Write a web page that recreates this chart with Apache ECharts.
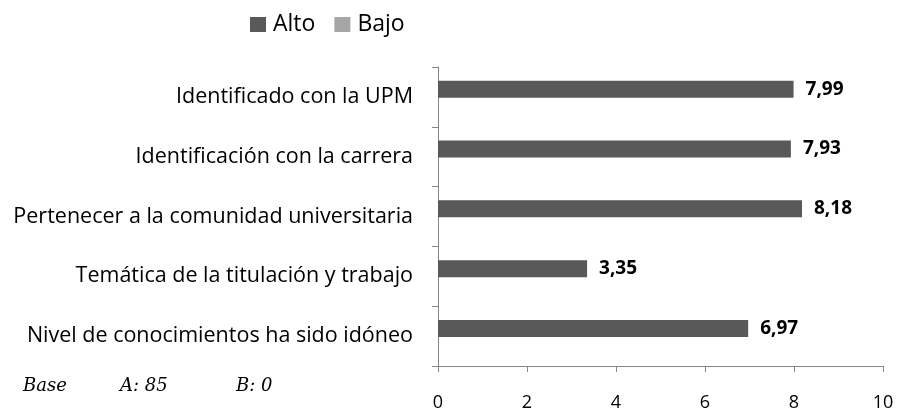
<!DOCTYPE html>
<html>
<head>
<meta charset="utf-8">
<script src="https://cdn.jsdelivr.net/npm/echarts@6/dist/echarts.min.js"></script>
<style>
  html, body { margin: 0; padding: 0; background: #fff; }
  #chart { width: 897px; height: 409px; }
</style>
</head>
<body>
<div id="chart"></div>
<script>
// datos del gráfico (de arriba a abajo)
var categorias = [
    'Identificado con la UPM',
    'Identificación con la carrera',
    'Pertenecer a la comunidad universitaria',
    'Temática de la titulación y trabajo',
    'Nivel de conocimientos ha sido idóneo'
];
var valoresAlto = [7.99, 7.93, 8.18, 3.35, 6.97];
var valoresBajo = ['-', '-', '-', '-', '-'];
var ticksX = [0, 2, 4, 6, 8, 10];

var chart = echarts.init(document.getElementById('chart'));

var fuente = 'Open Sans';
var serif = 'italic 18px "DejaVu Serif"';

var option = {
    animation: false,
    legend: {
        data: ['Alto', 'Bajo'],
        left: 245,
        top: 8,
        itemWidth: 16,
        itemHeight: 15,
        itemGap: 19,
        icon: 'rect',
        textStyle: { fontFamily: fuente, fontSize: 23, color: '#000', padding: [0, 0, 0, 2] }
    },
    grid: { left: 438, right: 14, top: 67, bottom: 43, outerBoundsMode: 'none' },
    xAxis: {
        type: 'value',
        min: 0,
        max: 10,
        interval: 2,
        splitLine: { show: false },
        axisLine: { show: true, lineStyle: { color: '#868686' } },
        axisTick: { show: true, length: 6, lineStyle: { color: '#868686' } },
        axisLabel: {
            fontFamily: fuente, fontSize: 18, color: '#000', margin: 28,
            formatter: function (v) { return ticksX.indexOf(v) >= 0 ? String(v) : ''; }
        }
    },
    yAxis: {
        type: 'category',
        inverse: true,
        data: categorias,
        axisLine: { show: true, lineStyle: { color: '#868686' } },
        axisTick: { show: true, length: 6, lineStyle: { color: '#868686' } },
        axisLabel: { fontFamily: fuente, fontSize: 21.5, color: '#000', margin: 25 }
    },
    series: [
        {
            name: 'Alto',
            type: 'bar',
            data: valoresAlto,
            barWidth: 17,
            barGap: '-10%',
            itemStyle: { color: '#595959' },
            label: {
                show: true,
                position: 'right',
                distance: 12,
                fontFamily: fuente,
                fontWeight: 'bold',
                fontSize: 19,
                color: '#000',
                formatter: function (p) { return p.value.toFixed(2).replace('.', ','); }
            }
        },
        {
            name: 'Bajo',
            type: 'bar',
            data: valoresBajo,
            barWidth: 17,
            itemStyle: { color: '#a6a6a6' }
        }
    ],
    graphic: [
        { type: 'text', left: 23, top: 377, style: { text: 'Base', font: serif, fill: '#000' } },
        { type: 'text', left: 120, top: 377, style: { text: 'A: 85', font: serif, fill: '#000' } },
        { type: 'text', left: 236, top: 377, style: { text: 'B: 0', font: serif, fill: '#000' } }
    ]
};

chart.setOption(option);
</script>
</body>
</html>
